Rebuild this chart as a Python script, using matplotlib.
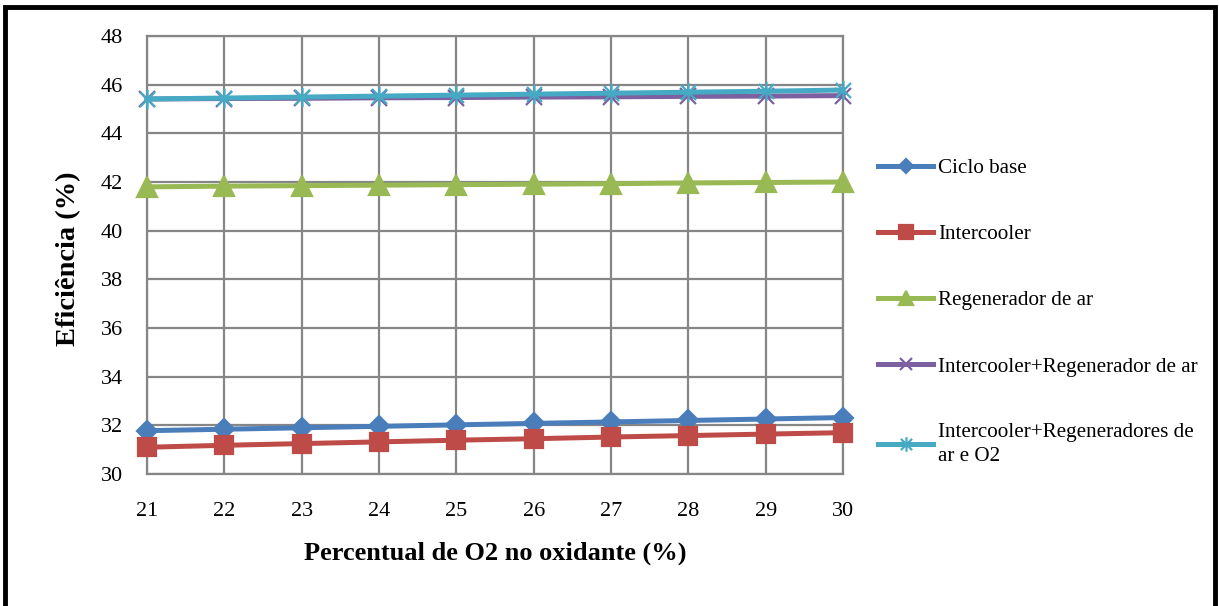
import matplotlib
matplotlib.use('Agg')
import matplotlib.pyplot as plt
import numpy as np
from matplotlib.path import Path
from matplotlib.patches import Rectangle

plt.rcParams['font.family'] = ['Liberation Serif', 'DejaVu Serif']

#%% dados
o2 = [21, 22, 23, 24, 25, 26, 27, 28, 29, 30]
ciclo_base = [31.78, 31.84, 31.90, 31.96, 32.02, 32.08, 32.14, 32.20, 32.26, 32.32]
intercooler = [31.10, 31.18, 31.25, 31.32, 31.39, 31.45, 31.52, 31.58, 31.64, 31.70]
regen_ar = [41.80, 41.83, 41.85, 41.87, 41.89, 41.91, 41.93, 41.96, 41.98, 42.00]
inter_regen = [45.41, 45.43, 45.44, 45.46, 45.47, 45.49, 45.50, 45.52, 45.53, 45.55]
inter_regen_o2 = [45.41, 45.45, 45.49, 45.53, 45.57, 45.61, 45.65, 45.69, 45.73, 45.78]

nomes = ['Ciclo base', 'Intercooler', 'Regenerador de ar',
         'Intercooler+Regenerador de ar',
         'Intercooler+Regeneradores de\nar e O2']

# marcador asterisco estilo Excel (x + barra vertical)
star = Path([(-1, -1), (1, 1), (-1, 1), (1, -1), (0, -1.3), (0, 1.3)],
            [Path.MOVETO, Path.LINETO, Path.MOVETO, Path.LINETO, Path.MOVETO, Path.LINETO])

series = [
    (ciclo_base, '#4a7ebb', 'D', 10),
    (intercooler, '#be4b48', 's', 13),
    (regen_ar, '#98b954', '^', 14),
    (inter_regen, '#7d60a0', 'x', 12),
    (inter_regen_o2, '#46aac5', star, 14),
]

#%% figura
fig = plt.figure(figsize=(12.19, 6.06), dpi=100)
ax = fig.add_axes([0.1206, 0.2178, 0.571, 0.7228])

for (vals, cor, mk, ms), nome in zip(series, nomes):
    ax.plot(o2, vals, color=cor, lw=3.6, marker=mk, ms=ms, mew=1.6,
            mec=cor, mfc=cor, label=nome, clip_on=False, zorder=3)

ax.set_xlim(21, 30)
ax.set_ylim(30, 48)
ax.set_xticks(o2)
ax.set_yticks(np.arange(30, 49, 2))
ax.grid(True, color='#868686', lw=1.6)
ax.set_axisbelow(True)
for s in ax.spines.values():
    s.set_color('#868686')
    s.set_linewidth(1.6)
ax.tick_params(length=0, labelsize=16)
ax.tick_params(axis='x', pad=20)
ax.tick_params(axis='y', pad=17.5)

fig.text(0.0566, 0.5726, 'Eficiência (%)', rotation=90, fontsize=20.5,
         fontweight='bold', ha='center', va='center')
fig.text(0.406, 0.0875, 'Percentual de O2 no oxidante (%)', fontsize=19,
         fontweight='bold', ha='center', va='center')

leg = ax.legend(loc='upper left', bbox_to_anchor=(0.7135, 0.753),
                bbox_transform=fig.transFigure, frameon=False, fontsize=15.2,
                handlelength=2.6, handletextpad=0.24, labelspacing=2.2,
                borderaxespad=0, markerscale=0.75)
for t in leg.get_texts():
    t.set_linespacing(1.35)

# moldura externa
fig.patches.append(Rectangle((0.004, -0.01), 0.993, 0.998, transform=fig.transFigure,
                             fill=False, ec='black', lw=3.5))

fig.savefig('out.png', dpi=100)
